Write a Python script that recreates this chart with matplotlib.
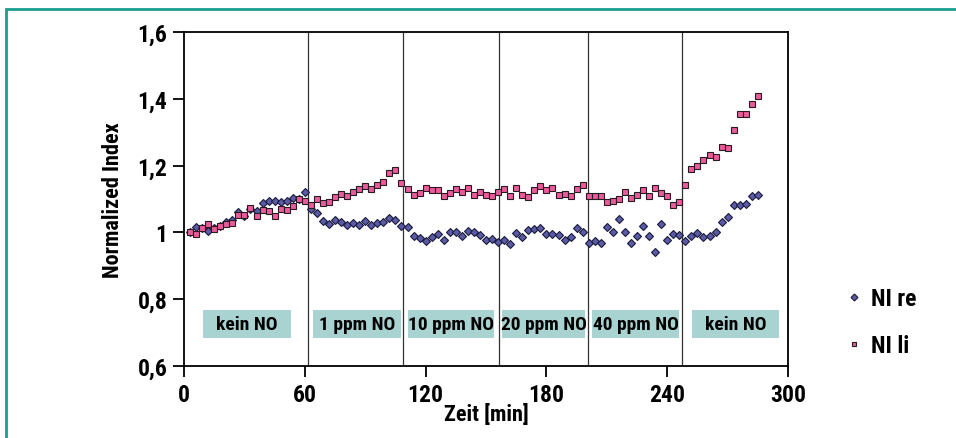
import numpy as np
import matplotlib
matplotlib.use('Agg')
import matplotlib.pyplot as plt
from matplotlib import font_manager
from matplotlib.patches import Rectangle

# --- data ---
zeit = np.arange(3, 288, 3)  # min, one sample every 3 min

ni_re = [1.000, 1.015, 1.012, 1.005, 1.014, 1.018, 1.030, 1.037, 1.060, 1.050,
         1.070, 1.065, 1.088, 1.094, 1.094, 1.092, 1.094, 1.102, 1.100, 1.120,
         1.070, 1.059, 1.034, 1.025, 1.036, 1.030, 1.021, 1.029, 1.023, 1.035,
         1.021, 1.028, 1.031, 1.043, 1.038, 1.020, 1.017, 0.988, 0.984, 0.973,
         0.987, 0.994, 0.977, 1.001, 1.001, 0.990, 1.005, 1.001, 0.992, 0.977,
         0.979, 0.972, 0.977, 0.964, 0.999, 0.985, 1.006, 1.010, 1.013, 0.994,
         0.994, 0.991, 0.978, 0.987, 1.012, 1.000, 0.967, 0.975, 0.967, 1.015,
         1.002, 1.041, 1.001, 0.967, 0.990, 1.019, 0.988, 0.940, 1.026, 0.978,
         0.995, 0.992, 0.973, 0.990, 0.998, 0.985, 0.988, 1.002, 1.031, 1.047,
         1.082, 1.082, 1.086, 1.109, 1.113]

ni_li = [1.000, 0.995, 1.012, 1.024, 1.010, 1.018, 1.024, 1.028, 1.052, 1.052,
         1.072, 1.048, 1.067, 1.063, 1.048, 1.070, 1.068, 1.079, 1.100, 1.093,
         1.083, 1.099, 1.088, 1.091, 1.105, 1.115, 1.110, 1.122, 1.129, 1.138,
         1.131, 1.143, 1.150, 1.177, 1.186, 1.147, 1.129, 1.113, 1.117, 1.132,
         1.127, 1.127, 1.108, 1.117, 1.130, 1.120, 1.132, 1.111, 1.122, 1.112,
         1.108, 1.121, 1.130, 1.109, 1.132, 1.113, 1.105, 1.127, 1.138, 1.127,
         1.134, 1.113, 1.115, 1.109, 1.131, 1.142, 1.108, 1.109, 1.109, 1.091,
         1.095, 1.099, 1.120, 1.102, 1.112, 1.127, 1.108, 1.132, 1.119, 1.108,
         1.081, 1.090, 1.141, 1.190, 1.198, 1.217, 1.231, 1.226, 1.256, 1.253,
         1.306, 1.354, 1.356, 1.383, 1.409]

# phase boundaries (min) and labels
grenzen = [61.4, 109.0, 156.2, 200.8, 247.5]
phasen = ['kein NO', '1 ppm NO', '10 ppm NO', '20 ppm NO', '40 ppm NO', 'kein NO']
box_von = [9.3, 64.2, 111.3, 158.0, 202.6, 252.3]
box_bis = [53.0, 107.6, 154.0, 199.2, 245.9, 295.4]

# --- font: condensed bold if available ---
installed = set(f.name for f in font_manager.fontManager.ttflist)
fam = 'DejaVu Sans'
for cand in ['Roboto Condensed', 'PT Sans Narrow', 'Fira Sans Condensed', 'Liberation Sans Narrow']:
    if cand in installed:
        fam = cand
        break
plt.rcParams['font.family'] = [fam, 'DejaVu Sans']
plt.rcParams['font.weight'] = 'bold'

fig = plt.figure(figsize=(9.56, 4.39), dpi=100)
ax = fig.add_axes([0.1925, 0.164, 0.6318, 0.7608])

# teal frame around the graphic
fig.patches.append(Rectangle((6 / 956, -0.1), 1.2, 1 - 10 / 439 + 0.1,
                             transform=fig.transFigure, fill=False,
                             edgecolor='#1a9e8f', linewidth=2))

for g in grenzen:
    ax.axvline(g, color='#333333', linewidth=0.9, zorder=1)

for a, b, txt in zip(box_von, box_bis, phasen):
    ax.add_patch(Rectangle((a, 0.683), b - a, 0.085, facecolor='#a8d3d1',
                           edgecolor='none', zorder=2))
    ax.text((a + b) / 2, 0.7255, txt, ha='center', va='center',
            fontsize=14, fontweight='bold', zorder=3)

ax.plot(zeit, ni_re, linestyle='none', marker='D', markersize=4.4,
        markerfacecolor='#5b5aa6', markeredgecolor='#1a1a3a',
        markeredgewidth=0.8, label='NI re', zorder=4)
ax.plot(zeit, ni_li, linestyle='none', marker='s', markersize=4.0,
        markerfacecolor='#ea5b9c', markeredgecolor='#2a1a20',
        markeredgewidth=0.8, label='NI li', zorder=5)

ax.set_xlim(0, 300)
ax.set_ylim(0.6, 1.6)
ax.set_xticks([0, 60, 120, 180, 240, 300])
ax.set_yticks([0.6, 0.8, 1.0, 1.2, 1.4, 1.6])
ax.set_yticklabels(['0,6', '0,8', '1', '1,2', '1,4', '1,6'])
ax.tick_params(direction='out', length=8, width=1.3, labelsize=17, pad=4)
for s in ax.spines.values():
    s.set_linewidth(1.3)

ax.set_xlabel('Zeit [min]', fontsize=16, fontweight='bold', labelpad=-2)
ax.set_ylabel('Normalized Index', fontsize=16, fontweight='bold', labelpad=10)

fig.legend(loc='upper left', bbox_to_anchor=(0.879, 0.365), frameon=False,
           fontsize=17, handlelength=0.4, handletextpad=0.5, labelspacing=1.0,
           markerscale=0.8, borderaxespad=0.0)

fig.savefig('out.png', dpi=100)
